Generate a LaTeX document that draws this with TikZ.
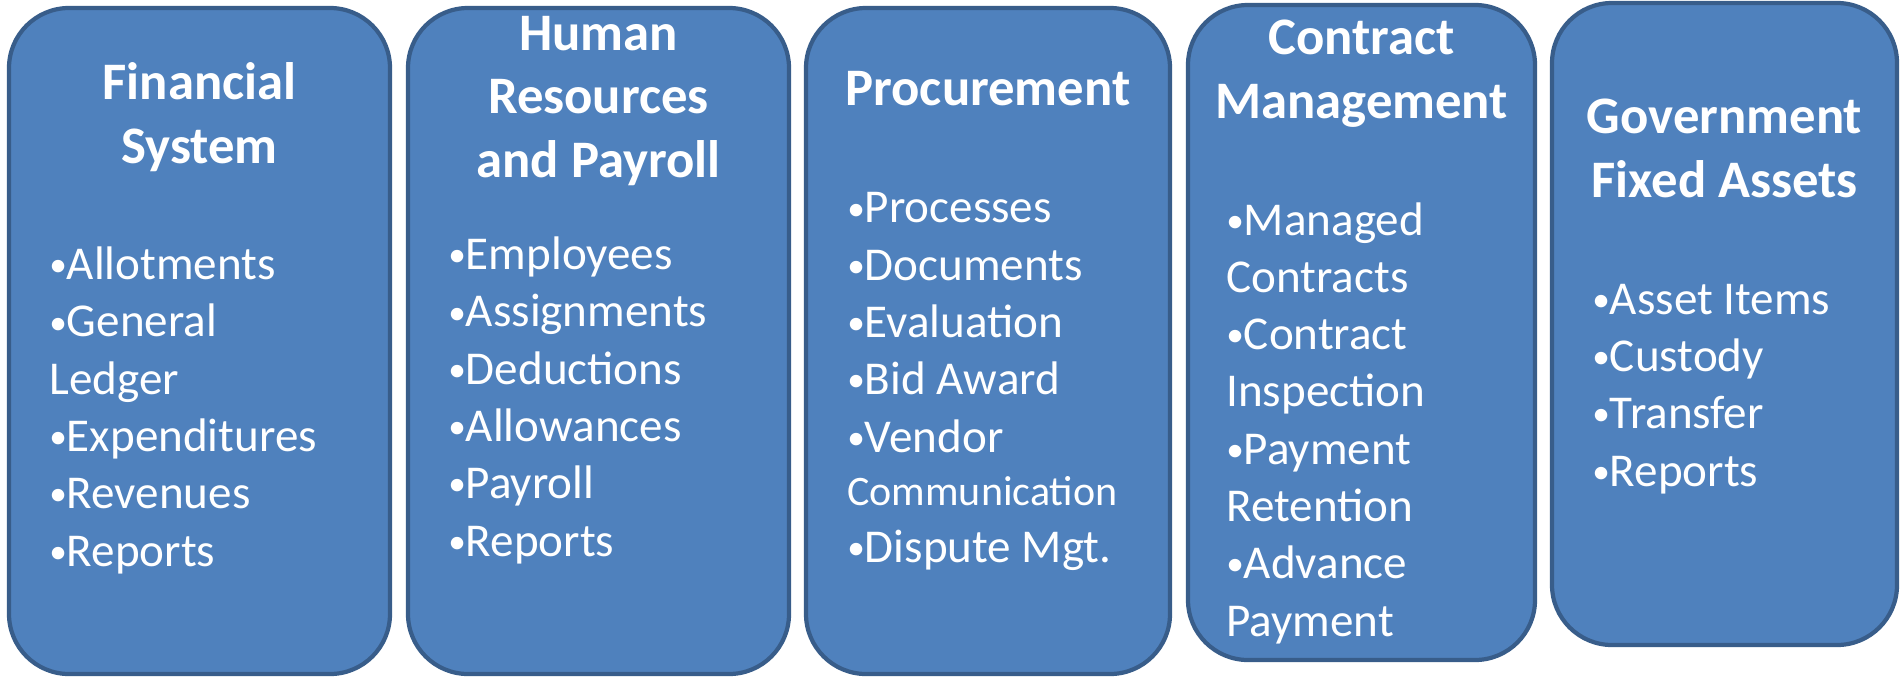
\documentclass[tikz,border=0pt]{standalone}
\usepackage{fontspec}
\setmainfont{Carlito}
\definecolor{boxfill}{HTML}{4F81BD}
\definecolor{boxline}{HTML}{385D8A}
\newcommand{\px}{0.02cm}
\newcommand{\bul}{\raisebox{0.06em}{\scalebox{0.75}{•}}}
\tikzset{>=stealth}
\tikzset{panel/.style={draw=boxline, fill=boxfill, line width=2.4pt, rounded corners=1.2cm, inner sep=0pt},
 paneltitle/.style={text=white, anchor=base, align=center, inner sep=0pt, font=\bfseries\fontsize{30pt}{35.9pt}\selectfont},
 panelitems/.style={text=white, anchor=base west, align=left, inner sep=0pt, font=\fontsize{26.8pt}{32.6pt}\selectfont}}

\begin{document}
\begin{tikzpicture}[x=0.02cm, y=-0.02cm]
\useasboundingbox (0,0) rectangle (1902,677);
\node[panel, minimum width=381*\px, minimum height=666*\px] (fin) at (199.5,341) {};
\node[panel, minimum width=381*\px, minimum height=666*\px] (hr) at (598.5,341) {};
\node[panel, minimum width=364*\px, minimum height=666*\px] (proc) at (988,341) {};
\node[panel, minimum width=347*\px, minimum height=655*\px] (cont) at (1361.5,332.5) {};
\node[panel, minimum width=345*\px, minimum height=642*\px] (gfa) at (1724.5,324) {};
\node[paneltitle] (finT) at (199.5,163) {Financial\\System};
\node[paneltitle] (hrT) at (598.5,177) {Human\\Resources\\and Payroll};
\node[paneltitle] (procT) at (988,105) {Procurement};
\node[paneltitle] (contT) at (1361.5,118) {Contract\\Management};
\node[paneltitle] (gfaT) at (1724.5,197) {Government\\Fixed Assets};
\node[panelitems] (finL) at (49,566) {\bul Allotments\\\bul General\\Ledger\\\bul Expenditures\\\bul Revenues\\\bul Reports};
\node[panelitems] (hrL) at (448,556) {\bul Employees\\\bul Assignments\\\bul Deductions\\\bul Allowances\\\bul Payroll\\\bul Reports};
\node[panelitems] (procL) at (847,562) {\bul Processes\\\bul Documents\\\bul Evaluation\\\bul Bid Award\\\bul Vendor\\[-1.9pt]{\fontsize{23.9pt}{32.6pt}\selectfont Communication}\\[-0.7pt]\bul Dispute Mgt.};
\node[panelitems] (contL) at (1226,636) {\bul Managed\\Contracts\\\bul Contract\\Inspection\\\bul Payment\\Retention\\\bul Advance\\Payment};
\node[panelitems] (gfaL) at (1592,486) {\bul Asset Items\\\bul Custody\\\bul Transfer\\\bul Reports};
\end{tikzpicture}
\end{document}
